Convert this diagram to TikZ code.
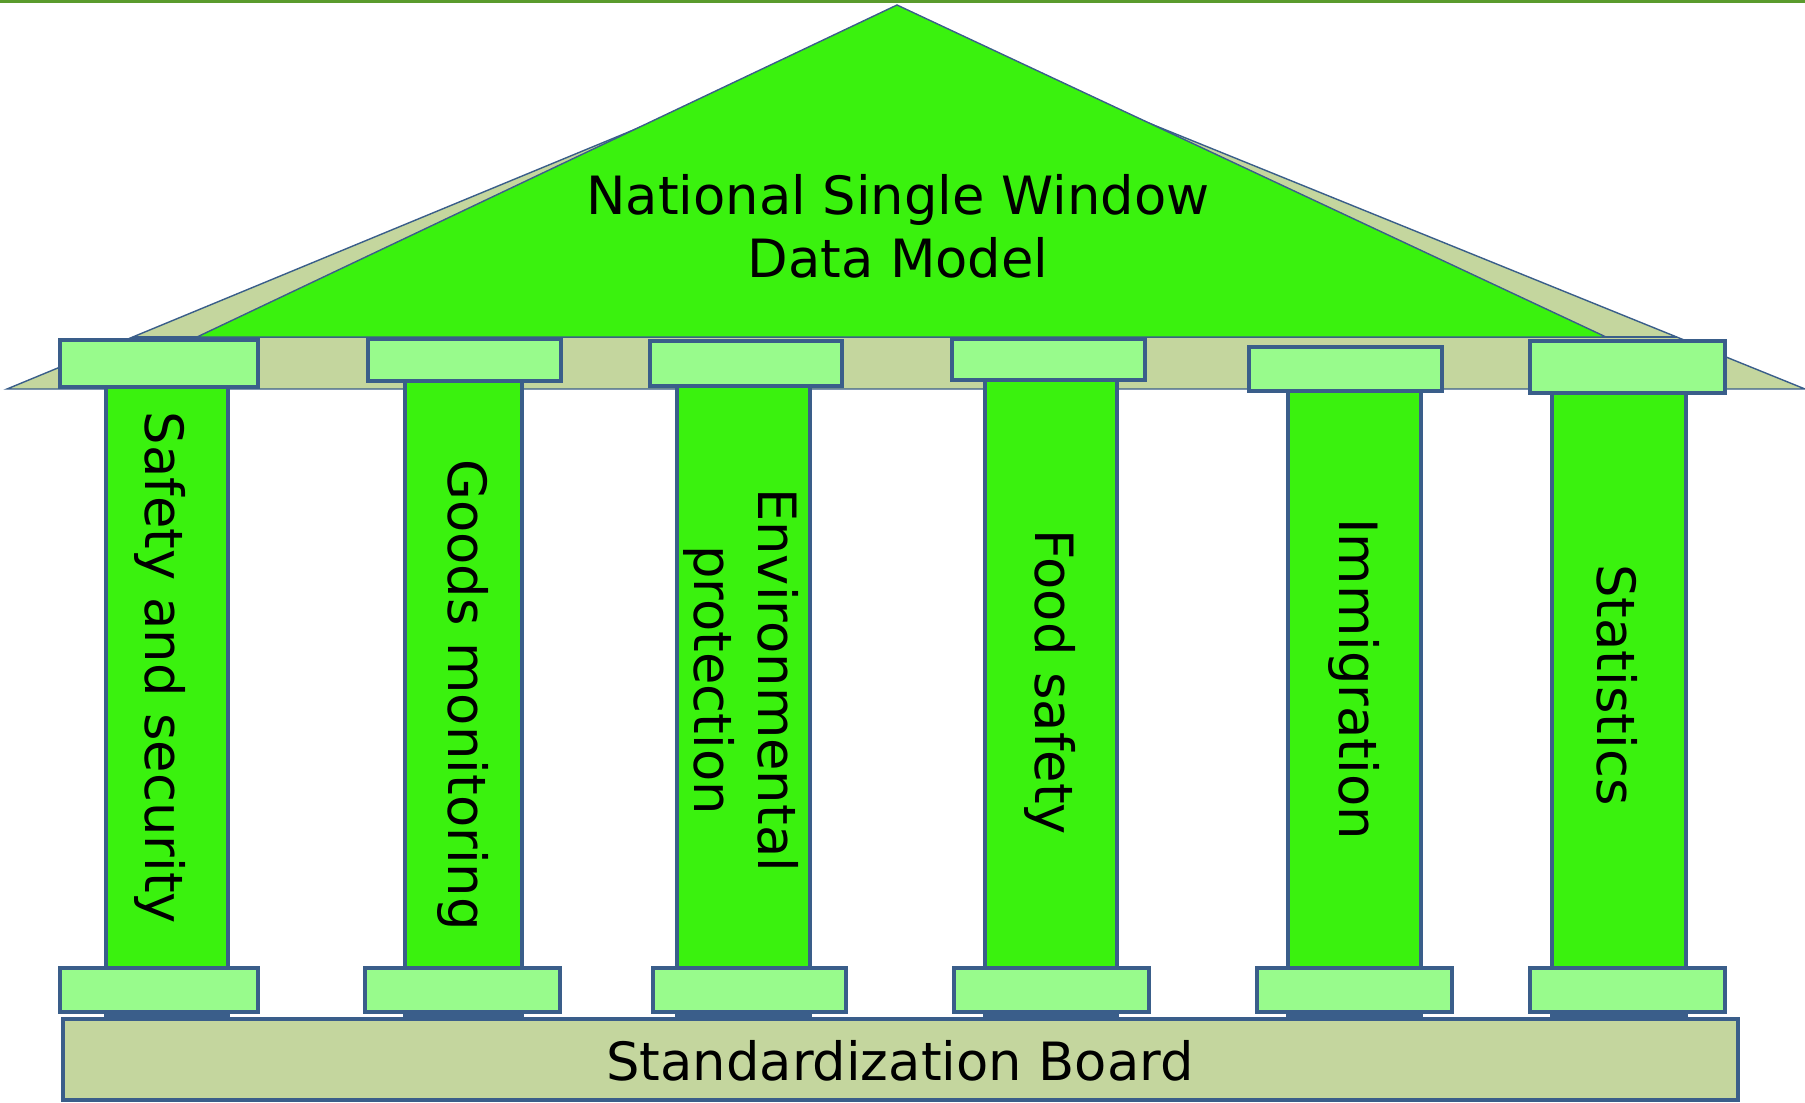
\documentclass[tikz,border=0pt]{standalone}
\usepackage{fontspec}
\setmainfont{DejaVu Sans}
\usetikzlibrary{calc}
\definecolor{roof-green}{RGB}{58,242,14}
\definecolor{capital-green}{RGB}{152,251,140}
\definecolor{roof-beige}{RGB}{196,214,158}
\definecolor{frame-blue}{RGB}{58,94,138}
\definecolor{ridge-green}{RGB}{90,155,45}

\begin{document}
\begin{tikzpicture}[x=0.01cm, y=-0.01cm, font=\fontsize{15}{18}\selectfont,
    roofpart/.style={draw=frame-blue, line width=0.4pt},
    shaft/.style={fill=roof-green, draw=frame-blue, line width=1.3pt},
    capital/.style={fill=capital-green, draw=frame-blue, line width=1.3pt},
    pillartext/.style={rotate=-90, align=center}]
\useasboundingbox (0,0) rectangle (1805,1103);
\draw[ridge-green, line width=0.9pt] (0,1.5) -- (1805,1.5);

\coordinate (eaveL) at (7,389);
\coordinate (eaveR) at (1805,389);
\coordinate (top) at (897,21);
\filldraw[roofpart, fill=roof-beige] (eaveL) -- (top) -- (eaveR) -- cycle;
\draw[roofpart] ($(eaveL)!52/368!(top)$) -- ($(eaveR)!52/368!(top)$);
\filldraw[roofpart, fill=roof-green] (197,337) -- (897,5) -- (1606,337) -- cycle;

\filldraw[shaft] (106,387) rectangle (228,1015);
\filldraw[shaft] (405,381) rectangle (522,1015);
\filldraw[shaft] (677,386) rectangle (810,1015);
\filldraw[shaft] (985,380) rectangle (1117,1015);
\filldraw[shaft] (1288,391) rectangle (1421,1015);
\filldraw[shaft] (1552,393) rectangle (1686,1015);

\filldraw[capital] (60,340) rectangle (258,387);
\filldraw[capital] (368,339) rectangle (561,381);
\filldraw[capital] (650,341) rectangle (842,386);
\filldraw[capital] (952,339) rectangle (1145,380);
\filldraw[capital] (1249,347) rectangle (1442,391);
\filldraw[capital] (1530,341) rectangle (1725,393);

\filldraw[capital] (60,968) rectangle (258,1012);
\filldraw[capital] (365,968) rectangle (560,1012);
\filldraw[capital] (653,968) rectangle (846,1012);
\filldraw[capital] (954,968) rectangle (1149,1012);
\filldraw[capital] (1257,968) rectangle (1452,1012);
\filldraw[capital] (1530,968) rectangle (1725,1012);

\filldraw[capital, fill=roof-beige] (63,1019) rectangle (1738,1100);

\node[align=center] (title) at (898,226) {National Single Window\\Data Model};
\node (board) at (900,1061) {Standardization Board};

\node[pillartext] (safety) at (160,668) {Safety and security};
\node[pillartext] (goods) at (463,695) {Goods monitoring};
\node[pillartext] (environment) at (741,680) {Environmental\\protection};
\node[pillartext] (food) at (1050,682) {Food safety};
\node[pillartext] (immigration) at (1354,679) {Immigration};
\node[pillartext] (statistics) at (1617,685) {Statistics};
\end{tikzpicture}
\end{document}
